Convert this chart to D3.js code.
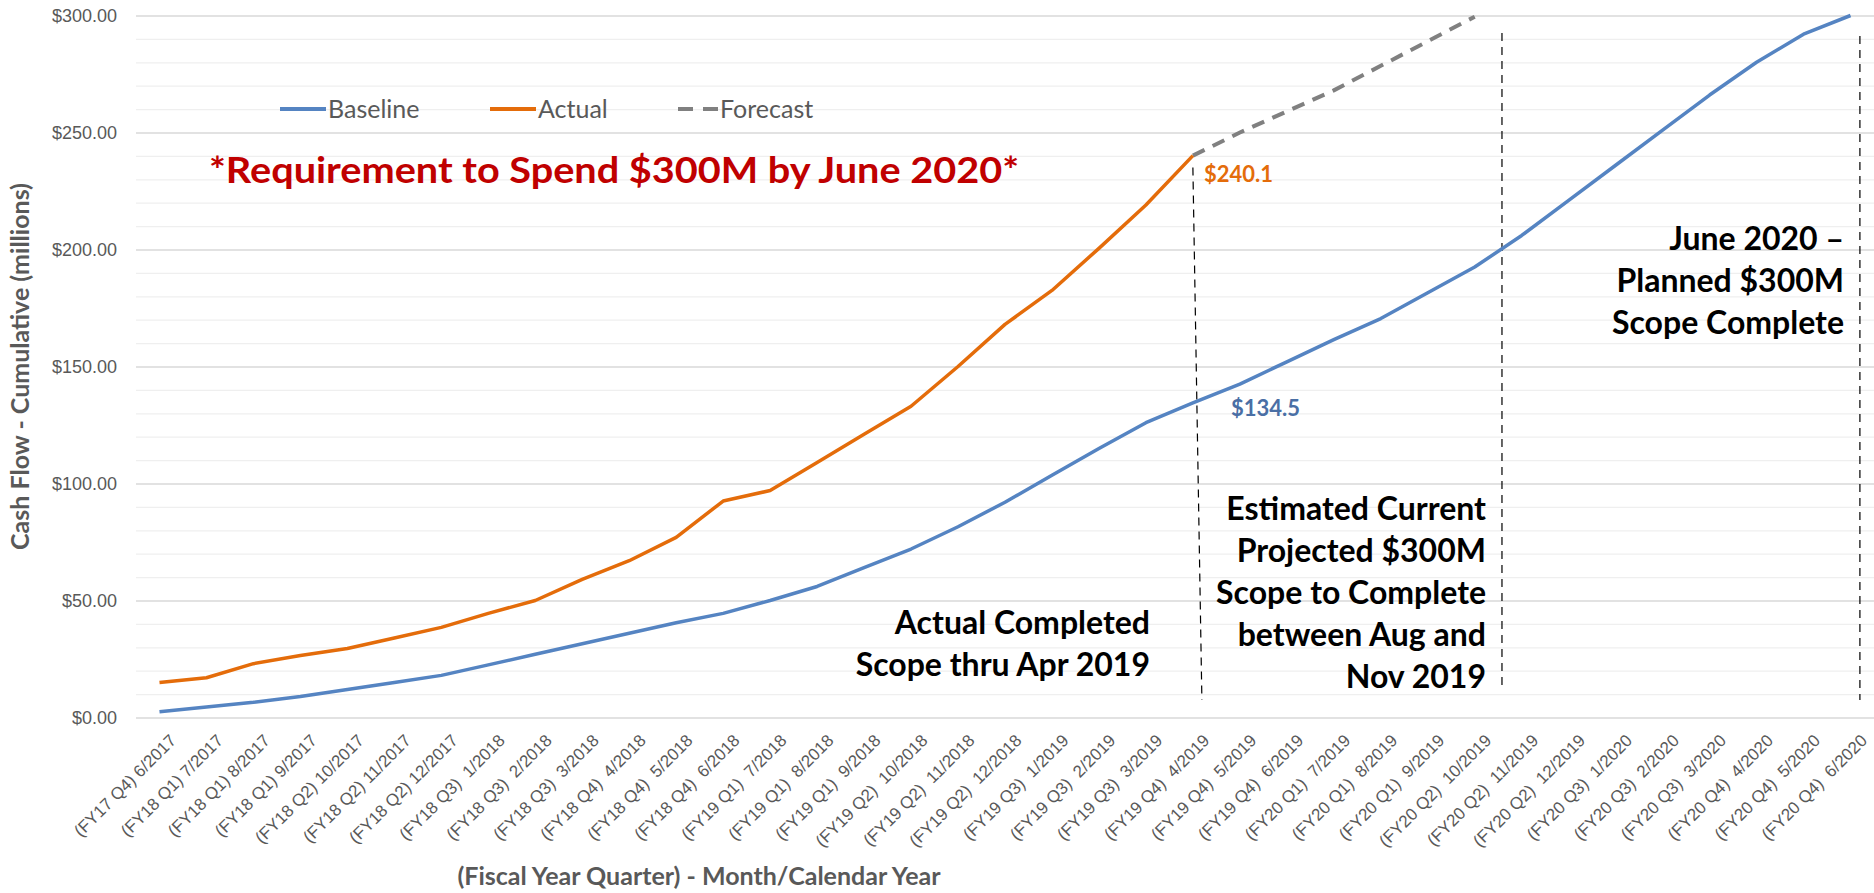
<!DOCTYPE html>
<html>
<head>
<meta charset="utf-8">
<script src="https://d3js.org/d3.v7.min.js"></script>
<style>
    body { margin: 0; background: #fff; }
    svg { display: block; font-family: Lato, "Open Sans", sans-serif; }
    .grid-major line { stroke: #d9d9d9; stroke-width: 1.5px; }
    .grid-minor line { stroke: #efefef; stroke-width: 1.3px; }
    .grid-major path, .grid-minor path { display: none; }
    .y-axis text { fill: #595959; font-size: 18px; }
    .y-axis path, .y-axis line, .x-axis path, .x-axis line { display: none; }
    .x-axis text { fill: #595959; font-size: 17px; white-space: pre; }
    .axis-title { fill: #595959; font-size: 25px; font-weight: bold; }
    .legend-text { fill: #595959; font-size: 25px; }
    .note { fill: #000; font-size: 32px; font-weight: bold; text-anchor: end; }
    .marker { stroke: #000; stroke-width: 1.2px; stroke-dasharray: 8 6; }
</style>
</head>
<body>
<svg id="chart" width="1874" height="893"></svg>
<script>
    // Месяцы с фискальными кварталами
    const months = [
        "(FY17 Q4) 6/2017", "(FY18 Q1) 7/2017", "(FY18 Q1) 8/2017", "(FY18 Q1) 9/2017",
        "(FY18 Q2) 10/2017", "(FY18 Q2) 11/2017", "(FY18 Q2) 12/2017",
        "(FY18 Q3)  1/2018", "(FY18 Q3)  2/2018", "(FY18 Q3)  3/2018",
        "(FY18 Q4)  4/2018", "(FY18 Q4)  5/2018", "(FY18 Q4)  6/2018",
        "(FY19 Q1)  7/2018", "(FY19 Q1)  8/2018", "(FY19 Q1)  9/2018",
        "(FY19 Q2)  10/2018", "(FY19 Q2)  11/2018", "(FY19 Q2)  12/2018",
        "(FY19 Q3)  1/2019", "(FY19 Q3)  2/2019", "(FY19 Q3)  3/2019",
        "(FY19 Q4)  4/2019", "(FY19 Q4)  5/2019", "(FY19 Q4)  6/2019",
        "(FY20 Q1)  7/2019", "(FY20 Q1)  8/2019", "(FY20 Q1)  9/2019",
        "(FY20 Q2)  10/2019", "(FY20 Q2)  11/2019", "(FY20 Q2)  12/2019",
        "(FY20 Q3)  1/2020", "(FY20 Q3)  2/2020", "(FY20 Q3)  3/2020",
        "(FY20 Q4)  4/2020", "(FY20 Q4)  5/2020", "(FY20 Q4)  6/2020"
    ];
    // Baseline - полный период
    const baseline = [2.5, 4.5, 6.5, 9, 12, 15, 18, 22.5, 27, 31.5, 36, 40.5, 44.5,
        50, 56, 64, 72, 81.5, 92, 103.5, 115, 126, 134.5, 142.5, 152, 161.5, 170.5,
        181.5, 192.5, 206, 221, 236, 251, 266, 280, 292, 300];
    // Actual - до 4/2019
    const actual = [15, 17, 23, 26.5, 29.5, 34, 38.5, 44.5, 50, 59, 67, 77, 92.5,
        97, 109, 121, 133, 150, 168, 182.5, 200.5, 219, 240.1];
    // Forecast - с 4/2019 по 10/2019
    const forecastStart = 22;
    const forecast = [240.1, 250, 259, 268, 278.5, 289, 299.5];
    const yTicks = [0, 50, 100, 150, 200, 250, 300];

    const svg = d3.select("#chart");
    const plotLeft = 136, plotRight = 1874, plotTop = 15.5, plotBottom = 717.5;

    const x = d3.scalePoint().domain(months).range([plotLeft, plotRight]).padding(0.5);
    const y = d3.scaleLinear().domain([0, 300]).range([plotBottom, plotTop]);
    const step = x.step();

    // Сетка: мелкая каждые 10, крупная каждые 50
    svg.append("g")
        .attr("class", "grid-minor")
        .attr("transform", `translate(${plotLeft},0)`)
        .call(d3.axisLeft(y).tickValues(d3.range(10, 300, 10).filter(v => v % 50)).tickSize(-(plotRight - plotLeft)).tickFormat(""));
    svg.append("g")
        .attr("class", "grid-major")
        .attr("transform", `translate(${plotLeft},0)`)
        .call(d3.axisLeft(y).tickValues(yTicks).tickSize(-(plotRight - plotLeft)).tickFormat(""));

    // Ось Y
    svg.append("g")
        .attr("class", "y-axis")
        .attr("transform", `translate(${plotLeft - 16},0)`)
        .call(d3.axisLeft(y).tickValues(yTicks).tickSize(0).tickFormat(d => "$" + d3.format(",.2f")(d)))
        .selectAll("text").attr("dy", "0.35em");

    // Ось X с повёрнутыми подписями
    svg.append("g")
        .attr("class", "x-axis")
        .attr("transform", `translate(0,${plotBottom})`)
        .call(d3.axisBottom(x).tickSize(0))
        .selectAll("text")
        .style("text-anchor", "end")
        .attr("dx", 0).attr("dy", 0)
        .attr("transform", "translate(15,22) rotate(-45)");

    // Заголовки осей
    svg.append("text")
        .attr("class", "axis-title")
        .attr("text-anchor", "middle")
        .attr("transform", `translate(29,${(plotTop + plotBottom) / 2}) rotate(-90)`)
        .text("Cash Flow - Cumulative (millions)");
    svg.append("text")
        .attr("class", "axis-title")
        .attr("text-anchor", "middle")
        .attr("font-size", 26)
        .attr("x", 699).attr("y", 885)
        .text("(Fiscal Year Quarter) - Month/Calendar Year");

    // Вертикальные пунктирные маркеры
    const markers = [
        { x1: x(months[22]), x2: x(months[22]) + 9, y1: y(235), y2: 700 },
        { x1: x(months[28]) + step * 0.58, x2: x(months[28]) + step * 0.58, y1: 33, y2: 687 },
        { x1: x(months[36]) + step * 0.2, x2: x(months[36]) + step * 0.2, y1: 36, y2: 700 }
    ];
    svg.selectAll(".marker")
        .data(markers)
        .enter()
        .append("line")
        .attr("class", "marker")
        .attr("x1", d => d.x1).attr("x2", d => d.x2)
        .attr("y1", d => d.y1).attr("y2", d => d.y2);

    const line = d3.line().x(d => x(d.m)).y(d => y(d.v));

    svg.append("path")
        .datum(baseline.map((v, i) => ({ m: months[i], v })))
        .attr("fill", "none").attr("stroke", "#5584c2").attr("stroke-width", 3.5)
        .attr("stroke-linejoin", "round")
        .attr("d", line);
    svg.append("path")
        .datum(forecast.map((v, i) => ({ m: months[forecastStart + i], v })))
        .attr("fill", "none").attr("stroke", "#808080").attr("stroke-width", 4)
        .attr("stroke-dasharray", "13 9")
        .attr("d", line);
    svg.append("path")
        .datum(actual.map((v, i) => ({ m: months[i], v })))
        .attr("fill", "none").attr("stroke", "#e46c0a").attr("stroke-width", 3.5)
        .attr("stroke-linejoin", "round")
        .attr("d", line);

    // Подписи значений
    svg.append("text")
        .attr("x", x(months[22]) + 11).attr("y", y(240.1) + 26)
        .attr("fill", "#e46c0a").attr("font-size", 22).attr("font-weight", "bold")
        .text("$240.1");
    svg.append("text")
        .attr("x", x(months[22]) + 38).attr("y", y(134.5) + 13)
        .attr("fill", "#4a6fa5").attr("font-size", 22).attr("font-weight", "bold")
        .text("$134.5");

    // Легенда
    const legend = [
        { name: "Baseline", color: "#5584c2", dash: null, x: 280 },
        { name: "Actual", color: "#e46c0a", dash: null, x: 490 },
        { name: "Forecast", color: "#808080", dash: "15 10", x: 678 }
    ];
    const lg = svg.selectAll(".legend").data(legend).enter().append("g")
        .attr("transform", d => `translate(${d.x},109)`);
    lg.append("line")
        .attr("x1", 0).attr("x2", d => d.dash ? 40 : 46).attr("y1", 0).attr("y2", 0)
        .attr("stroke", d => d.color).attr("stroke-width", 4)
        .attr("stroke-dasharray", d => d.dash);
    lg.append("text")
        .attr("class", "legend-text")
        .attr("x", d => d.dash ? 42 : 48).attr("y", 9)
        .text(d => d.name);

    // Требование
    svg.append("text")
        .attr("x", 209).attr("y", 183)
        .attr("fill", "#c00000").attr("font-size", 36).attr("font-weight", "bold")
        .attr("textLength", 810).attr("lengthAdjust", "spacingAndGlyphs")
        .text("*Requirement to Spend $300M by June 2020*");

    // Пояснения к маркерам
    const notes = [
        { lines: ["Actual Completed", "Scope thru Apr 2019"], x: 1150, y: 634 },
        { lines: ["Estimated Current", "Projected $300M", "Scope to Complete", "between Aug and", "Nov 2019"], x: 1486, y: 520 },
        { lines: ["June 2020 \u2013", "Planned $300M", "Scope Complete"], x: 1844, y: 250 }
    ];
    notes.forEach(n => {
        const t = svg.append("text").attr("class", "note");
        n.lines.forEach((s, i) => {
            t.append("tspan").attr("x", n.x).attr("y", n.y + i * 42).text(s);
        });
    });
</script>
</body>
</html>
